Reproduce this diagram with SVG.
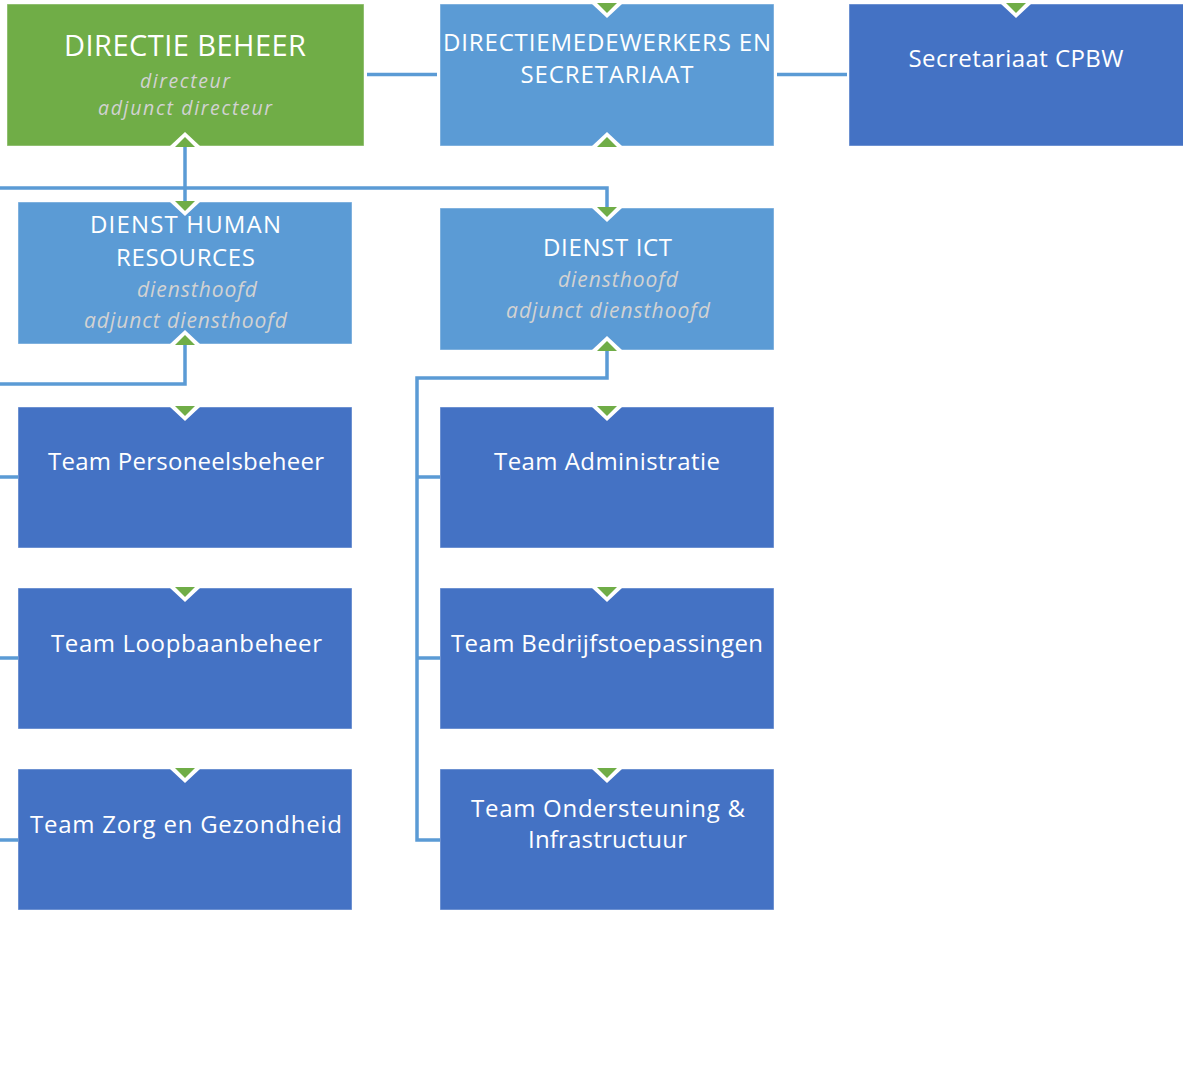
<svg xmlns="http://www.w3.org/2000/svg" xmlns:xlink="http://www.w3.org/1999/xlink" width="1183" height="1092" viewBox="0 0 1183 1092">
<style>
.box{stroke:#ffffff;stroke-opacity:0.45;stroke-width:1}
.green{fill:#70AD47}
.mid{fill:#5B9BD5}
.dark{fill:#4472C4}
.t{font-family:"Open Sans","Noto Sans",sans-serif;fill:#ffffff;text-anchor:middle}
.s{font-family:"Open Sans","Noto Sans",sans-serif;fill:#D2D2D2;font-style:italic;text-anchor:middle;font-size:21px}
.s2{font-size:19.5px}
.ln{fill:none;stroke:#5B9BD5;stroke-width:3.5;stroke-linejoin:miter}
</style>
<defs>
<g id="dn"><polygon points="-15,0 15,0 0,14" fill="#ffffff"/><polygon points="-10,-1 10,-1 0,9" fill="#70AD47"/></g>
<g id="up"><polygon points="-15,0 15,0 0,-14" fill="#ffffff"/><polygon points="-10,1 10,1 0,-9" fill="#70AD47"/></g>
</defs>
<rect width="1183" height="1092" fill="#ffffff"/>

<g id="node-directie-beheer">
<rect class="box green" x="7" y="4" width="357" height="142"/>
<text class="t" x="185" y="56" font-size="29" textLength="242">DIRECTIE BEHEER</text>
<text class="s s2" x="185" y="88" textLength="90">directeur</text>
<text class="s s2" x="185" y="115" textLength="174">adjunct directeur</text>
</g>
<g id="node-directiemedewerkers">
<rect class="box mid" x="440" y="4" width="334" height="142"/>
<text class="t" x="607" y="51" font-size="24" textLength="328">DIRECTIEMEDEWERKERS EN</text>
<text class="t" x="607" y="83" font-size="24" textLength="173">SECRETARIAAT</text>
</g>
<g id="node-secretariaat-cpbw">
<rect class="box dark" x="849" y="4" width="345" height="142"/>
<text class="t" x="1016" y="67" font-size="24" textLength="215">Secretariaat CPBW</text>
</g>
<g id="node-dienst-hr">
<rect class="box mid" x="18" y="202" width="334" height="142"/>
<text class="t" x="185.5" y="233" font-size="24" textLength="191">DIENST HUMAN</text>
<text class="t" x="185.5" y="266" font-size="24" textLength="139">RESOURCES</text>
<text class="s" x="197" y="297" textLength="120">diensthoofd</text>
<text class="s" x="185.5" y="328" textLength="203">adjunct diensthoofd</text>
</g>
<g id="node-dienst-ict">
<rect class="box mid" x="440" y="208" width="334" height="142"/>
<text class="t" x="607.5" y="256" font-size="24" textLength="129">DIENST ICT</text>
<text class="s" x="618" y="287" textLength="120">diensthoofd</text>
<text class="s" x="608" y="318" textLength="204">adjunct diensthoofd</text>
</g>
<g id="node-team-personeelsbeheer">
<rect class="box dark" x="18" y="407" width="334" height="141"/>
<text class="t" x="186" y="470" font-size="24" textLength="276">Team Personeelsbeheer</text>
</g>
<g id="node-team-loopbaanbeheer">
<rect class="box dark" x="18" y="588" width="334" height="141"/>
<text class="t" x="186.5" y="652" font-size="24" textLength="271">Team Loopbaanbeheer</text>
</g>
<g id="node-team-zorg">
<rect class="box dark" x="18" y="769" width="334" height="141"/>
<text class="t" x="186" y="833" font-size="24" textLength="312">Team Zorg en Gezondheid</text>
</g>
<g id="node-team-administratie">
<rect class="box dark" x="440" y="407" width="334" height="141"/>
<text class="t" x="607" y="470" font-size="24" textLength="226">Team Administratie</text>
</g>
<g id="node-team-bedrijfstoepassingen">
<rect class="box dark" x="440" y="588" width="334" height="141"/>
<text class="t" x="607" y="652" font-size="24" textLength="312">Team Bedrijfstoepassingen</text>
</g>
<g id="node-team-ondersteuning">
<rect class="box dark" x="440" y="769" width="334" height="141"/>
<text class="t" x="608" y="817" font-size="24" textLength="274">Team Ondersteuning &amp;</text>
<text class="t" x="607.5" y="848" font-size="24" textLength="159">Infrastructuur</text>
</g>

<g id="connectors">
<path class="ln" d="M367 74.5 H437"/>
<path class="ln" d="M777 74.5 H847"/>
<path class="ln" d="M185 146 V202"/>
<path class="ln" d="M0 188 H607 V208"/>
<path class="ln" d="M185 344 V384 H0"/>
<path class="ln" d="M0 477 H18 M0 658 H18 M0 840 H18"/>
<path class="ln" d="M607 350 V378 H417 V840 H440 M417 477 H440 M417 658 H440"/>
<use xlink:href="#up" x="185" y="146"/>
<use xlink:href="#dn" x="607" y="4"/>
<use xlink:href="#up" x="607" y="146"/>
<use xlink:href="#dn" x="1016" y="4"/>
<use xlink:href="#dn" x="185" y="202"/>
<use xlink:href="#up" x="185" y="344"/>
<use xlink:href="#dn" x="607" y="208"/>
<use xlink:href="#up" x="607" y="350"/>
<use xlink:href="#dn" x="185" y="407"/>
<use xlink:href="#dn" x="185" y="588"/>
<use xlink:href="#dn" x="185" y="769"/>
<use xlink:href="#dn" x="607" y="407"/>
<use xlink:href="#dn" x="607" y="588"/>
<use xlink:href="#dn" x="607" y="769"/>
</g>
</svg>
